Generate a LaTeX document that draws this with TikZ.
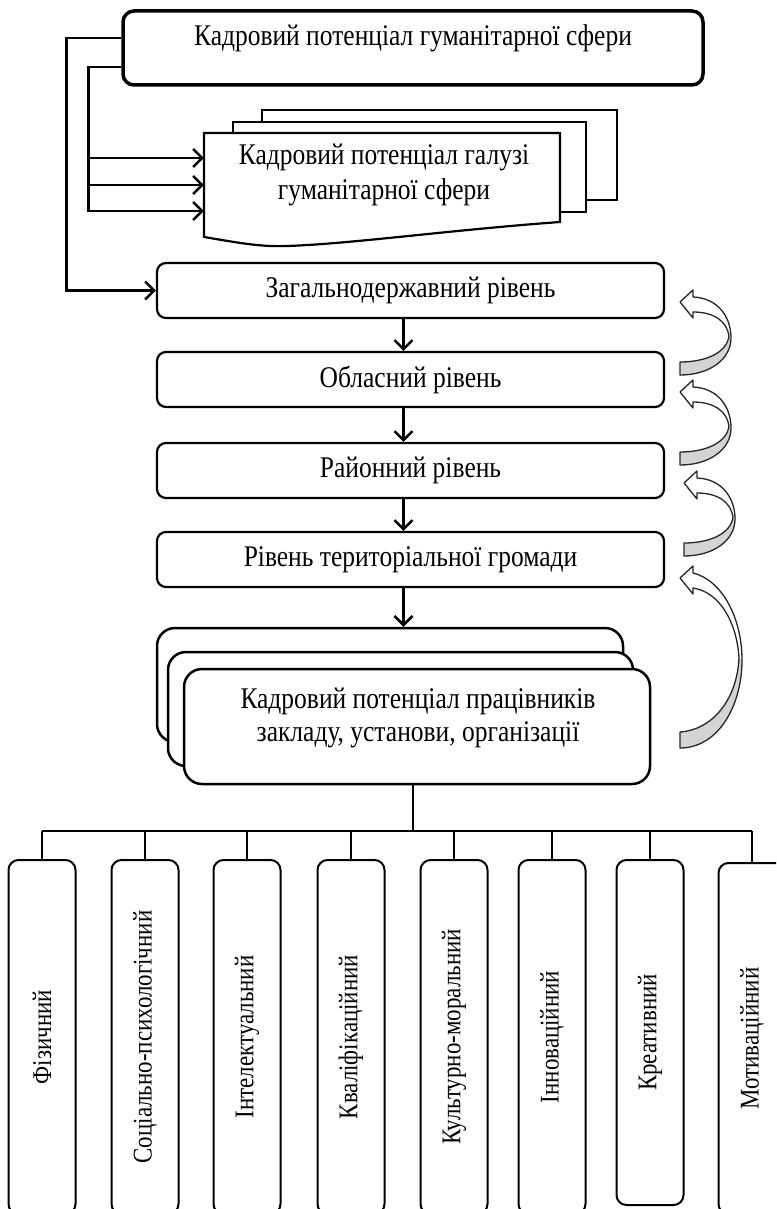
\documentclass[tikz,border=0pt]{standalone}
\usepackage{fontspec}
\setmainfont{Liberation Serif}[FakeStretch=0.85]
\usetikzlibrary{arrows.meta}
\newcommand\fs{\fontsize{30}{35}\selectfont}
\newcommand\fsv{\fontsize{27}{32}\selectfont}
\definecolor{arrgrey}{RGB}{212,212,212}
\tikzset{
  lvl/.style={draw, line width=2.2pt, rounded corners=9pt, minimum width=507pt, minimum height=55pt, font=\fs, inner sep=0pt},
  conn/.style={line width=2.5pt, -{Straight Barb[length=9pt,width=18pt]}},
  busline/.style={line width=2pt},
  docline/.style={draw, line width=2.2pt, fill=white},
  stackbox/.style={draw, line width=2.5pt, rounded corners=18pt, fill=white, inner sep=0pt},
  vbox/.style={draw, line width=2pt, rounded corners=10pt, rotate=90, minimum height=67pt, font=\fsv, inner sep=0pt},
  curvline/.style={draw=black!85, line width=1.3pt, line join=round},
}
\newcommand\smallcurv[2]{%
  \begin{scope}[shift={(#1,#2)}]
    \fill[white] (0,0) -- (13,-12) -- (13,-5) .. controls (38,-4) and (51,15) .. (51,36) .. controls (51,57) and (30,73) .. (0,73) -- (0,60) .. controls (27,60) and (47,50) .. (49,34) .. controls (47,20) and (35,10) .. (13,10) -- (13,16) -- cycle;
    \fill[arrgrey] (49,34) .. controls (47,50) and (27,60) .. (0,60) -- (0,73) .. controls (30,73) and (51,57) .. (51,36) -- cycle;
    \draw[curvline] (0,0) -- (13,-12) -- (13,-5) .. controls (38,-4) and (51,15) .. (51,36) .. controls (51,57) and (30,73) .. (0,73) -- (0,60) .. controls (27,60) and (47,50) .. (49,34) .. controls (47,20) and (35,10) .. (13,10) -- (13,16) -- cycle;
  \end{scope}}
\newcommand\largecurv[2]{%
  \begin{scope}[shift={(#1,#2)}]
    \fill[white] (0,0) -- (13,-12) -- (13,-5) .. controls (42,2) and (62,40) .. (62,82) .. controls (62,128) and (38,170) .. (0,170) -- (0,154) .. controls (32,152) and (57,122) .. (59,80) .. controls (57,45) and (40,14) .. (13,10) -- (13,16) -- cycle;
    \fill[arrgrey] (59,80) .. controls (57,122) and (32,152) .. (0,154) -- (0,170) .. controls (38,170) and (62,128) .. (62,82) -- cycle;
    \draw[curvline] (0,0) -- (13,-12) -- (13,-5) .. controls (42,2) and (62,40) .. (62,82) .. controls (62,128) and (38,170) .. (0,170) -- (0,154) .. controls (32,152) and (57,122) .. (59,80) .. controls (57,45) and (40,14) .. (13,10) -- (13,16) -- cycle;
  \end{scope}}
\begin{document}
\begin{tikzpicture}[x=1pt, y=-1pt]
\useasboundingbox (0,0) rectangle (776,1209);
\clip (0,0) rectangle (776,1209);

% top box
\node[draw, line width=3.5pt, rounded corners=11pt, minimum width=580pt, minimum height=74pt] (top) at (413,48) {};
\node[font=\fs, inner sep=0pt] (toptext) at (413,38) {Кадровий потенціал гуманітарної сфери};

% document stack
\draw[docline] (262,110) rectangle (617,200);
\draw[docline] (233,122) rectangle (586,212);
\draw[docline] (204,133) -- (560,133) -- (560,222) .. controls (450,230) and (350,244) .. (287,246) .. controls (260,247) and (240,243) .. (204,237) -- cycle;
\node[minimum width=356pt, minimum height=104pt, inner sep=0pt] (doc) at (382,185) {};
\node[font=\fontsize{30}{35}\selectfont, align=center, inner sep=0pt] (doctext) at (384,175) {Кадровий потенціал галузі\\гуманітарної сфери};

% levels
\node[lvl] (L1) at (410.5,290.5) {Загальнодержавний рівень};
\node[lvl] (L2) at (410.5,379.5) {Обласний рівень};
\node[lvl] (L3) at (410.5,470.5) {Районний рівень};
\node[lvl] (L4) at (410.5,559.5) {Рівень територіальної громади};

% stack of organisation boxes
\node[stackbox, minimum width=466pt, minimum height=114pt] (S1) at (390,685) {};
\node[stackbox, minimum width=465pt, minimum height=114pt] (S2) at (400.5,709) {};
\node[stackbox, minimum width=466pt, minimum height=115pt] (S3) at (417,726.5) {};
\node[font=\fontsize{30}{33}\selectfont, align=center, inner sep=0pt] (S3text) at (418,718) {Кадровий потенціал працівників\\закладу, установи, організації};

% left connectors
\coordinate (j1) at (89,158);
\coordinate (j2) at (89,185);
\draw[conn] ([yshift=10pt]top.west) -- ++(-55,0) |- (L1.west);
\draw[conn] ([yshift=-19pt]top.west) -- ++(-33,0) |- ([yshift=-26pt]doc.west);
\draw[conn] (j1) -- ([yshift=27pt]doc.west);
\draw[conn] (j2) -- (doc.west);

% vertical arrows
\draw[conn] ([xshift=-7pt]L1.south) -- ([xshift=-7pt]L2.north);
\draw[conn] ([xshift=-7pt]L2.south) -- ([xshift=-7pt]L3.north);
\draw[conn] ([xshift=-7pt]L3.south) -- ([xshift=-7pt]L4.north);
\draw[conn] ([xshift=-7pt]L4.south) -- ([xshift=-7pt]L4.south |- S1.north);

% curved return arrows
\smallcurv{680}{302}
\smallcurv{680}{392}
\smallcurv{684}{483}
\largecurv{680}{578}

% bottom boxes
\node[vbox, minimum width=354pt] (b1) at (42,1037) {Фізичний};
\node[vbox, minimum width=354pt] (b2) at (145,1037) {Соціально-психологічний};
\node[vbox, minimum width=354pt] (b3) at (247,1037) {Інтелектуальний};
\node[vbox, minimum width=354pt] (b4) at (351,1037) {Кваліфікаційний};
\node[vbox, minimum width=354pt] (b5) at (454,1037) {Культурно-моральний};
\node[vbox, minimum width=354pt] (b6) at (552,1037) {Інноваційний};
\node[vbox, minimum width=345pt] (b7) at (650,1032.5) {Креативний};
\node[vbox, minimum width=351pt] (b8) at (752,1038.5) {Мотиваційний};

% bus
\coordinate (busL) at (42,831);
\coordinate (busR) at (752,831);
\draw[busline] ([xshift=-4pt]S3.south) -- ([xshift=-4pt]S3.south |- busL);
\draw[busline] (busL) -- (busR);
\foreach \b in {b1,b2,b3,b4,b5,b6,b7,b8}{
  \draw[busline] (\b.east |- busL) -- (\b.east);
}
\end{tikzpicture}
\end{document}
